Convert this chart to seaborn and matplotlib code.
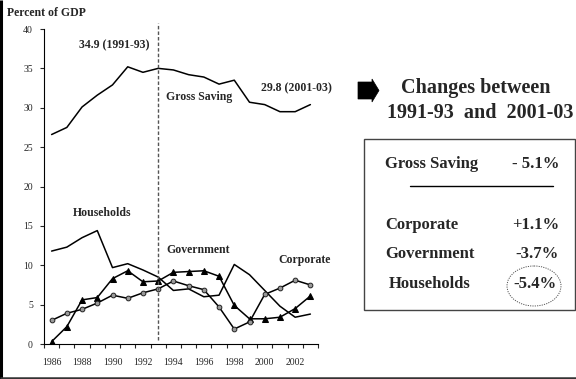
import matplotlib
matplotlib.use("Agg")
import matplotlib.pyplot as plt
from matplotlib.patches import Polygon, Rectangle, Ellipse
import numpy as np
import pandas as pd
import seaborn as sns

# Saving by sector, percent of GDP
years = list(range(1986, 2004))
gross_saving = [26.6, 27.5, 30.1, 31.6, 32.9, 35.2, 34.5, 35.0, 34.8, 34.2,
                33.9, 33.0, 33.5, 30.7, 30.4, 29.5, 29.5, 30.4]
households = [11.8, 12.3, 13.5, 14.4, 9.7, 10.2, 9.4, 8.5, 6.8, 7.0,
              6.0, 6.2, 10.1, 8.8, 6.8, 4.8, 3.4, 3.8]
government = [0.3, 2.2, 5.6, 5.9, 8.3, 9.3, 7.9, 8.0, 9.1, 9.2,
              9.3, 8.6, 4.9, 3.2, 3.2, 3.4, 4.5, 6.1]
corporate = [3.0, 3.9, 4.4, 5.2, 6.2, 5.8, 6.5, 7.0, 8.0, 7.4,
             6.9, 4.7, 1.9, 2.8, 6.3, 7.1, 8.1, 7.5]

y_ticks = [0, 5, 10, 15, 20, 25, 30, 35, 40]
x_labels = [1986, 1988, 1990, 1992, 1994, 1996, 1998, 2000, 2002]

change_rows = ["Corporate", "Government", "Households"]
change_vals = ["+1.1%", "-3.7%", "-5.4%"]

df = pd.DataFrame({"year": years, "gross": gross_saving, "households": households,
                   "government": government, "corporate": corporate})

sns.set_style("ticks")
plt.rcParams["font.family"] = ["Liberation Serif", "DejaVu Serif"]

W, H = 576, 379
fig = plt.figure(figsize=(W / 100, H / 100), dpi=100)
ax = fig.add_axes([44 / W, 1 - 344 / H, (318 - 44) / W, (344 - 29) / H])

lw = 1.1
sns.lineplot(data=df, x="year", y="gross", ax=ax, color="black", lw=lw)
sns.lineplot(data=df, x="year", y="households", ax=ax, color="black", lw=lw)
sns.lineplot(data=df, x="year", y="government", ax=ax, color="black", lw=lw,
             marker="^", markersize=5, markerfacecolor="black", markeredgecolor="black")
sns.lineplot(data=df, x="year", y="corporate", ax=ax, color="black", lw=lw,
             marker="o", markersize=3.4, markerfacecolor="#9a9a9a",
             markeredgecolor="#222222", markeredgewidth=0.7)

ax.set_xlim(1985.5, 2003.5)
ax.set_ylim(0, 40)
ax.set_yticks(y_ticks)
ax.set_yticklabels([str(v) for v in y_ticks])
ax.set_xticks(x_labels)
ax.set_xticklabels([str(v) for v in x_labels])
ax.set_xticks(np.arange(1985.5, 2004, 1.0), minor=True)
ax.tick_params(axis="x", which="major", length=0, pad=10, labelsize=7)
ax.tick_params(axis="x", which="minor", length=3, width=0.8, direction="out")
ax.tick_params(axis="y", length=3, width=0.8, direction="out", pad=5, labelsize=7)
ax.set_xlabel("")
ax.set_ylabel("")
for s in ["top", "right"]:
    ax.spines[s].set_visible(False)
for s in ["left", "bottom"]:
    ax.spines[s].set_linewidth(0.8)
    ax.spines[s].set_color("black")

# divider between the two periods
ax.plot([1993, 1993], [0.5, 40.8], color="#555555", lw=1.0, ls=(0, (2.5, 1.5)),
        clip_on=False)

# overlay in pixel coordinates for the free text and the summary panel
ov = fig.add_axes([0, 0, 1, 1], zorder=5)
ov.set_xlim(0, W)
ov.set_ylim(H, 0)
ov.axis("off")
ov.patch.set_alpha(0)

ov.text(7, 12.5, "Percent of GDP", fontsize=8.5, fontweight="bold", va="center", ha="left")
ov.text(114, 45, "34.9 (1991-93)", fontsize=8.5, fontweight="bold", va="center", ha="center")
ov.text(199.5, 97, "Gross Saving", fontsize=8.5, fontweight="bold", va="center", ha="center")
ov.text(296, 88, "29.8 (2001-03)", fontsize=8.5, fontweight="bold", va="center", ha="center")
ov.text(102, 213, "Households", fontsize=8.5, fontweight="bold", va="center", ha="center")
ov.text(198.5, 250, "Government", fontsize=8.5, fontweight="bold", va="center", ha="center")
ov.text(305, 260, "Corporate", fontsize=8.5, fontweight="bold", va="center", ha="center")

# block arrow
ov.add_patch(Polygon([(358, 82), (372, 82), (372, 79), (379, 90.5), (372, 102),
                      (372, 99), (358, 99)], closed=True, facecolor="black",
                     edgecolor="black", lw=0.5))

ov.text(476, 88, "Changes between", fontsize=14.5, fontweight="bold", va="center", ha="center")
ov.text(480, 113, "1991-93  and  2001-03", fontsize=14.5, fontweight="bold",
        va="center", ha="center")

ov.add_patch(Rectangle((364, 139), 211, 171, facecolor="none", edgecolor="#444444", lw=1.0))
ov.text(385, 164, "Gross Saving", fontsize=12, fontweight="bold", va="center", ha="left")
ov.text(559, 164, "- 5.1%", fontsize=12, fontweight="bold", va="center", ha="right")
ov.plot([410, 553], [186, 186], color="black", lw=1.0)

row_y = [225, 254, 284]
row_x = [385, 385, 389]
for name, val, yy, xx in zip(change_rows, change_vals, row_y, row_x):
    ov.text(xx, yy, name, fontsize=12, fontweight="bold", va="center", ha="left")
    ov.text(559 if name != "Households" else 557, yy, val, fontsize=12,
            fontweight="bold", va="center", ha="right")

ov.add_patch(Ellipse((534, 286), 54, 40, facecolor="none", edgecolor="#555555",
                     lw=0.7, ls=(0, (1.2, 1.2))))

# outer frame on the left and bottom
ov.plot([1.2, 1.2], [0, H], color="black", lw=2.2, solid_capstyle="butt")
ov.plot([0, W], [377.5, 377.5], color="#333333", lw=1.8, solid_capstyle="butt")

fig.savefig("out.png", dpi=100)
